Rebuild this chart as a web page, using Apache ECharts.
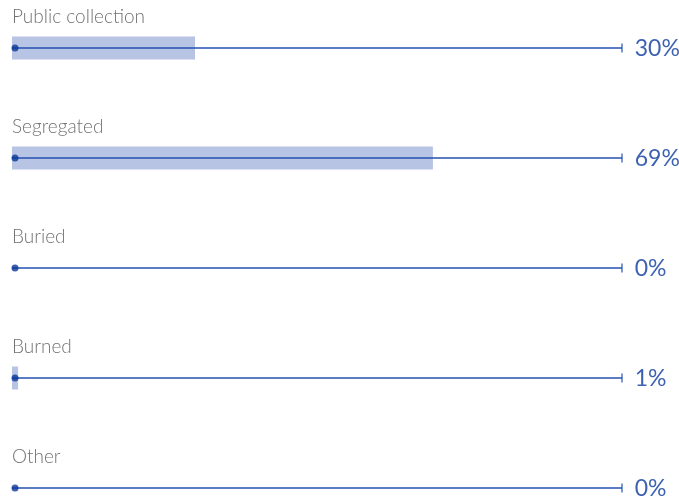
<!DOCTYPE html>
<html>
<head>
<meta charset="utf-8">
<script src="https://cdn.jsdelivr.net/npm/echarts@6/dist/echarts.min.js"></script>
<style>
  html, body { margin: 0; padding: 0; background: #ffffff; }
  #chart { width: 679px; height: 496px; }
</style>
</head>
<body>
<div id="chart"></div>
<script>
// Waste disposal shares by method (percent of households)
const categories = ['Public collection', 'Segregated', 'Buried', 'Burned', 'Other'];
const shares = [30, 69, 0, 1, 0];
const scaleMax = 100;

const barColor = '#b7c4e3';
const lineColor = '#2350b2';
const dotColor = '#0a3797';
const valueColor = '#0b3a9e';
const labelColor = '#727272';

const chart = echarts.init(document.getElementById('chart'), null, { renderer: 'canvas' });

// Two identical category axes so the share bar and the thin track
// are each centred on the row instead of being laid out side by side.
const rowAxis = (showLabels) => ({
  type: 'category',
  data: categories,
  inverse: true,
  boundaryGap: false,
  axisLine: { show: false },
  axisTick: { show: false },
  splitLine: { show: false },
  axisLabel: showLabels ? {
    inside: true,
    align: 'left',
    verticalAlign: 'bottom',
    margin: 0,
    padding: [0, 0, 22, 0],
    color: labelColor,
    fontFamily: 'Lato',
    fontWeight: 300,
    fontSize: 19
  } : { show: false }
});

chart.setOption({
  animation: false,
  backgroundColor: '#ffffff',
  grid: { left: 12, right: 57, top: 48, bottom: 8, containLabel: false },
  xAxis: {
    type: 'value', min: 0, max: scaleMax,
    show: false
  },
  yAxis: [rowAxis(true), rowAxis(false)],
  series: [
    {
      name: 'share',
      type: 'bar',
      yAxisIndex: 0,
      data: shares,
      barWidth: 23,
      itemStyle: { color: barColor },
      z: 1
    },
    {
      name: 'track',
      type: 'bar',
      yAxisIndex: 1,
      data: categories.map(() => scaleMax),
      barWidth: 1.5,
      itemStyle: { color: lineColor },
      z: 2
    },
    {
      name: 'start',
      type: 'scatter',
      yAxisIndex: 0,
      data: categories.map((c) => [0, c]),
      symbol: 'circle',
      symbolSize: 7,
      symbolOffset: [3, 0],
      itemStyle: { color: dotColor },
      z: 3
    },
    {
      name: 'end',
      type: 'scatter',
      yAxisIndex: 0,
      data: categories.map((c, i) => ({ value: [scaleMax, c], share: shares[i] })),
      symbol: 'rect',
      symbolSize: [1.5, 9],
      itemStyle: { color: lineColor },
      label: {
        show: true,
        position: 'right',
        distance: 12,
        offset: [0, 1],
        formatter: (p) => p.data.share + '%',
        color: valueColor,
        fontFamily: 'Lato',
        fontSize: 23
      },
      z: 3
    }
  ]
});
</script>
</body>
</html>
